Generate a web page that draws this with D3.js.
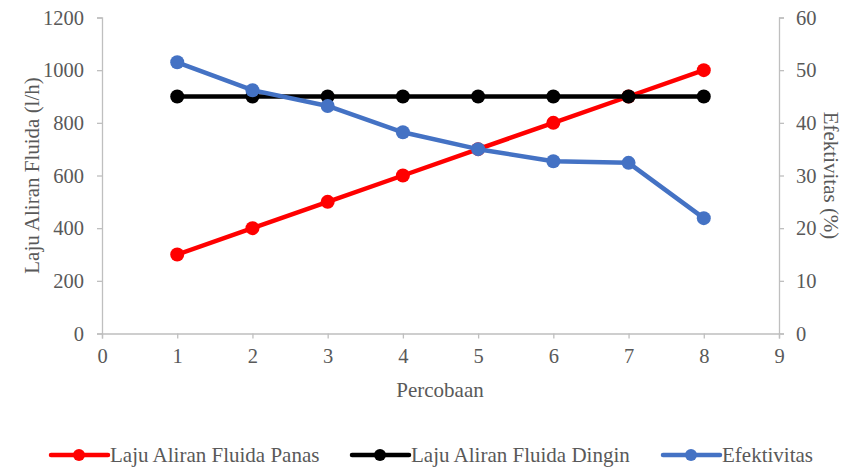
<!DOCTYPE html>
<html><head><meta charset="utf-8">
<script src="https://cdn.jsdelivr.net/npm/d3@7"></script>
<style>body{margin:0;background:#fff}svg{display:block}</style>
</head><body>
<svg id="c" width="850" height="469"></svg>
<script>
const percobaan = [1,2,3,4,5,6,7,8];
const panas = [300,400,500,600,700,800,900,1000];
const dingin = [900,900,900,900,900,900,900,900];
const efektivitas = [51.5,46.2,43.2,38.2,35.0,32.7,32.4,21.9];
const xTicks = [0,1,2,3,4,5,6,7,8,9];
const yLeftTicks = [0,200,400,600,800,1000,1200];
const yRightTicks = [0,10,20,30,40,50,60];
const seriesNames = ["Laju Aliran Fluida Panas","Laju Aliran Fluida Dingin","Efektivitas"];
const colors = ["#FF0000","#000000","#4472C4"];

const svg = d3.select("#c");
const L=102,R=779,T=17.5,B=333.5;
const x = d3.scaleLinear().domain([0,9]).range([L,R]);
const yl = d3.scaleLinear().domain([0,1200]).range([B,T]);
const yr = d3.scaleLinear().domain([0,60]).range([B,T]);
const font = "Liberation Serif";
const fs = 21, tfs = 20.5;
const axCol = "#BFBFBF", txtCol="#595959";

function style(g){
  g.attr("font-family",font).attr("font-size",tfs);
  g.select(".domain").attr("stroke",axCol).attr("stroke-width",1.3);
  g.selectAll(".tick line").attr("stroke",axCol).attr("stroke-width",1.3);
  g.selectAll(".tick text").attr("fill",txtCol);
}
svg.append("g").attr("transform",`translate(${L},0)`)
  .call(d3.axisLeft(yl).tickValues(yLeftTicks).tickSize(5).tickSizeOuter(5).tickPadding(13).tickFormat(d3.format("d"))).call(style);
svg.append("g").attr("transform",`translate(${R},0)`)
  .call(d3.axisRight(yr).tickValues(yRightTicks).tickSize(5).tickSizeOuter(5).tickPadding(12).tickFormat(d3.format("d"))).call(style);
svg.append("g").attr("transform",`translate(0,${B})`)
  .call(d3.axisBottom(x).tickValues(xTicks).tickSize(5).tickSizeOuter(5).tickPadding(10).tickFormat(d3.format("d"))).call(style);

function label(sel){ return sel.attr("fill",txtCol).attr("font-family",font).attr("font-size",fs); }
svg.append("text").attr("transform",`translate(39,${(T+B)/2}) rotate(-90)`).attr("text-anchor","middle").call(label).text("Laju Aliran Fluida (l/h)");
svg.append("text").attr("transform",`translate(824,${(T+B)/2}) rotate(90)`).attr("text-anchor","middle").call(label).text("Efektivitas (%)");
svg.append("text").attr("x",440).attr("y",397).attr("text-anchor","middle").call(label).text("Percobaan");

const data = [
  percobaan.map((p,i)=>[x(p),yl(panas[i])]),
  percobaan.map((p,i)=>[x(p),yl(dingin[i])]),
  percobaan.map((p,i)=>[x(p),yr(efektivitas[i])])
];
const line = d3.line();
data.forEach((pts,k)=>{
  const g = svg.append("g");
  g.append("path").attr("d",line(pts)).attr("fill","none").attr("stroke",colors[k]).attr("stroke-width",4.5).attr("stroke-linejoin","round");
  g.selectAll("circle").data(pts).join("circle").attr("cx",d=>d[0]).attr("cy",d=>d[1]).attr("r",7).attr("fill",colors[k]);
});

const legX = [51,352,663];
seriesNames.forEach((n,k)=>{
  const g = svg.append("g").attr("transform",`translate(${legX[k]},455)`);
  g.append("line").attr("x1",0).attr("x2",57).attr("stroke",colors[k]).attr("stroke-width",4.5).attr("stroke-linecap","round");
  g.append("circle").attr("cx",28).attr("r",6).attr("fill",colors[k]);
  g.append("text").attr("x",59).attr("y",7).call(label).text(n);
});
</script>
</body></html>
